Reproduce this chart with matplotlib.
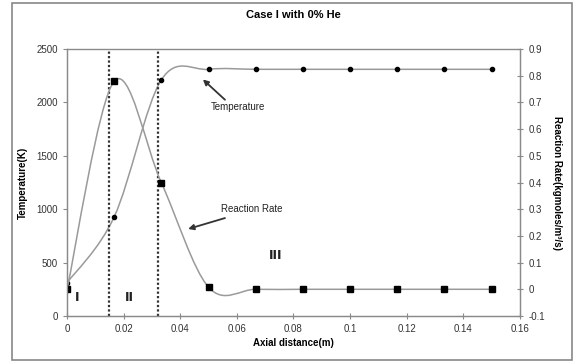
import numpy as np
import matplotlib.pyplot as plt
from matplotlib.path import Path
from matplotlib.patches import PathPatch, Rectangle

plt.rcParams['font.family'] = ['Liberation Sans', 'DejaVu Sans']

# data
x = [0.0, 0.0167, 0.0333, 0.05, 0.0667, 0.0833, 0.1, 0.1167, 0.1333, 0.15]
temperature = [310, 930, 2210, 2310, 2310, 2310, 2310, 2310, 2310, 2310]
rate = [0.0, 0.78, 0.40, 0.008, 0.0, 0.0, 0.0, 0.0, 0.0, 0.0]
zone_edges = [0.015, 0.032]
zone_labels = ["I", "II", "III"]


def smooth_path(xs, ys):
    # Excel-style smoothed line: Catmull-Rom through the points as cubic Beziers
    pts = np.column_stack([xs, ys]).astype(float)
    n = len(pts)
    verts = [pts[0]]
    codes = [Path.MOVETO]
    for i in range(n - 1):
        p0 = pts[i - 1] if i > 0 else pts[i]
        p1, p2 = pts[i], pts[i + 1]
        p3 = pts[i + 2] if i + 2 < n else pts[i + 1]
        verts += [p1 + (p2 - p0) / 6, p2 - (p3 - p1) / 6, p2]
        codes += [Path.CURVE4] * 3
    return Path(verts, codes)


fig = plt.figure(figsize=(5.73, 3.62), dpi=100)
ax = fig.add_axes([0.1169, 0.1271, 0.7906, 0.7375])
ax2 = ax.twinx()

line_col = "#9a9a9a"
ax.add_patch(PathPatch(smooth_path(x, temperature), fc="none", ec=line_col, lw=1.1))
ax.plot(x, temperature, ls="none", marker="o", ms=3, color="black")
ax2.add_patch(PathPatch(smooth_path(x, rate), fc="none", ec=line_col, lw=1.1))
ax2.plot(x, rate, ls="none", marker="s", ms=4.5, color="black")

for xe in zone_edges:
    ax.axvline(xe, color="#333333", ls=(0, (1, 1)), lw=1.6)

ax.set_xlim(0, 0.16)
ax.set_ylim(0, 2500)
ax2.set_ylim(-0.1, 0.9)
ax.set_xticks(np.arange(0, 0.161, 0.02))
ax.set_xticklabels(["0", "0.02", "0.04", "0.06", "0.08", "0.1", "0.12", "0.14", "0.16"])
ax.set_yticks(range(0, 2501, 500))
ax2.set_yticks(np.arange(-0.1, 0.91, 0.1))
ax2.set_yticklabels(["-0.1", "0", "0.1", "0.2", "0.3", "0.4", "0.5", "0.6", "0.7", "0.8", "0.9"])

for a in (ax, ax2):
    for s in a.spines.values():
        s.set_color("#8a8a8a")
        s.set_linewidth(0.9)
    a.tick_params(labelsize=7, colors="#8a8a8a", labelcolor="#333333", length=3, width=0.8)
ax.tick_params(axis="x", direction="inout", length=4)
ax2.tick_params(axis="y", direction="inout", length=5)
ax.spines["top"].set_color("#bbbbbb")

ax.set_title("Case I with 0% He", fontsize=8, fontweight="bold", pad=22)
ax.set_xlabel("Axial distance(m)", fontsize=7, fontweight="bold", labelpad=3)
ax.set_ylabel("Temperature(K)", fontsize=7, fontweight="bold", labelpad=6)
ax2.set_ylabel("Reaction Rate(kgmoles/m\u00b3/s)", fontsize=7, fontweight="bold",
               rotation=-90, labelpad=12)

arrow = dict(arrowstyle="-|>", color="#333333", lw=1.3, shrinkA=0, shrinkB=0,
             mutation_scale=8)
ax.annotate("", xy=(0.048, 2215), xytext=(0.0558, 2025), arrowprops=arrow)
ax.text(0.0605, 1955, "Temperature", fontsize=7, ha="center", va="center", color="#222222")
ax.annotate("", xy=(0.0428, 815), xytext=(0.0558, 917), arrowprops=arrow)
ax.text(0.0653, 1002, "Reaction Rate", fontsize=7, ha="center", va="center", color="#222222")

for lab, xp, yp in zip(zone_labels, [0.0035, 0.022, 0.0738], [170, 170, 570]):
    ax.text(xp, yp, lab, fontsize=9, fontweight="bold", color="#222222",
            ha="center", va="center", family="DejaVu Sans")

fig.patches.append(Rectangle((12 / 573, 2 / 362), 560 / 573, 357 / 362,
                             transform=fig.transFigure, fill=False,
                             ec="#888888", lw=1.2))

fig.savefig("out.png", dpi=100)
